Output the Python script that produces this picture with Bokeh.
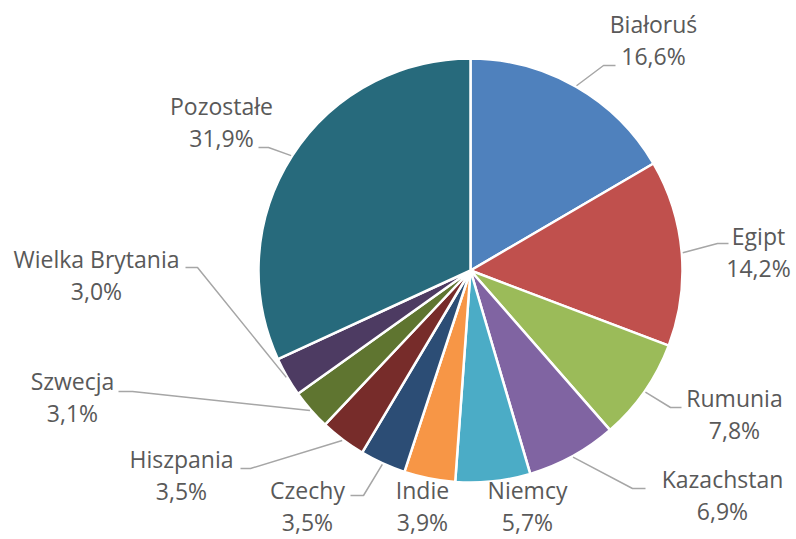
import math
from bokeh.plotting import figure
from bokeh.models import Range1d, ColumnDataSource
from bokeh.core.properties import value
from bokeh.embed import file_html
from bokeh.resources import INLINE

# ---- data ----
countries = ["Białoruś", "Egipt", "Rumunia", "Kazachstan", "Niemcy", "Indie",
             "Czechy", "Hiszpania", "Szwecja", "Wielka Brytania", "Pozostałe"]
shares = [16.6, 14.2, 7.8, 6.9, 5.7, 3.9, 3.5, 3.5, 3.1, 3.0, 31.9]
pct_labels = ["16,6%", "14,2%", "7,8%", "6,9%", "5,7%", "3,9%",
              "3,5%", "3,5%", "3,1%", "3,0%", "31,9%"]
colors = ["#4F81BD", "#C0504D", "#9BBB59", "#8064A2", "#4BACC6", "#F79646",
          "#2C4D75", "#772C2A", "#5F7530", "#4D3B62", "#276A7C"]

# ---- layout (image pixel coordinates) ----
W, H = 796, 539
CX, CY, R = 470, 270, 212
TEXT_SHIFT = 10
# label centre x, name baseline y
label_pos = [(653, 33), (758, 245), (734, 407), (722, 488), (527, 499), (422, 499),
             (307, 499), (181, 468), (72, 390), (96, 268), (221, 115)]
LINE_GAP = 32
# leader lines: (elbow, end) or None
leaders = [((603, 65), (615, 65)), ((717, 243), (728, 243)), ((670, 407), (681, 407)),
           ((632, 488), (645, 488)), None, None,
           ((363, 495), (350, 495)), ((250, 468), (240, 468)), ((132, 391), (118, 391)),
           ((197, 267), (185, 267)), ((268, 147), (258, 147))]


def fy(y_img):
    return H - y_img


p = figure(width=W, height=H, output_backend="svg", toolbar_location=None,
           x_range=Range1d(0, W), y_range=Range1d(0, H), min_border=0)
p.axis.visible = False
p.grid.visible = False
p.outline_line_color = None
p.background_fill_color = "white"
p.border_fill_color = "white"

total = sum(shares)
starts, ends, mids = [], [], []
c = 0.0
for v in shares:
    f0 = c / total
    c += v
    f1 = c / total
    starts.append(math.pi / 2 - 2 * math.pi * f0)
    ends.append(math.pi / 2 - 2 * math.pi * f1)
    mids.append(2 * math.pi * (f0 + f1) / 2)

src = ColumnDataSource(dict(start=starts, end=ends, color=colors))
p.wedge(x=CX, y=fy(CY), radius=R, start_angle="start", end_angle="end",
        direction="clock", fill_color="color", line_color="white",
        line_width=2.5, source=src)

# leader lines
xs, ys = [], []
for m, ld in zip(mids, leaders):
    if ld is None:
        continue
    sx = CX + (R + 1) * math.sin(m)
    sy = CY - (R + 1) * math.cos(m)
    (ex, ey), (tx, ty) = ld
    xs.append([sx, ex, tx])
    ys.append([fy(sy), fy(ey), fy(ty)])
p.multi_line(xs=xs, ys=ys, line_color="#A6A6A6", line_width=1.5)

# labels
lx = [pos[0] for pos in label_pos]
ly1 = [fy(pos[1] - TEXT_SHIFT) for pos in label_pos]
ly2 = [fy(pos[1] + LINE_GAP - TEXT_SHIFT) for pos in label_pos]
font = value("Open Sans")
p.text(x=lx, y=ly1, text=countries, text_font=font, text_font_size="23px",
       text_color="#595959", text_align="center", text_baseline="alphabetic")
p.text(x=lx, y=ly2, text=pct_labels, text_font=font, text_font_size="23px",
       text_color="#595959", text_align="center", text_baseline="alphabetic")

open("out.html", "w").write(file_html(p, INLINE))
